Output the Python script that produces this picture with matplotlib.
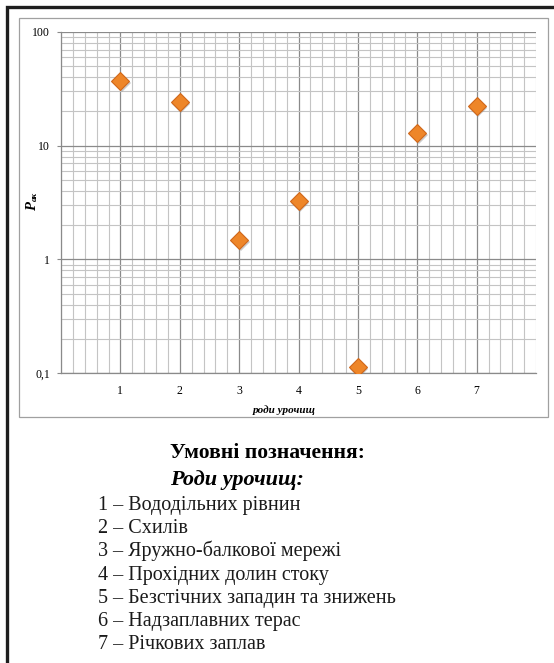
import matplotlib
matplotlib.use('Agg')
import matplotlib.pyplot as plt
import numpy as np
from matplotlib.patches import Rectangle
from matplotlib.ticker import FixedLocator, LogLocator, NullFormatter
from matplotlib.transforms import ScaledTranslation

# values
rody = [1, 2, 3, 4, 5, 6, 7]
p_ak = [37, 24, 1.48, 3.25, 0.112, 12.8, 22.4]
ytick_vals = [0.1, 1, 10, 100]
ytick_labels = ['0,1', '1', '10', '100']
legend_title = 'Умовні позначення:'
legend_sub = 'Роди урочищ:'
legend_items = ['1 – Вододільних рівнин', '2 – Схилів', '3 – Яружно-балкової мережі',
                '4 – Прохідних долин стоку', '5 – Безстічних западин та знижень',
                '6 – Надзаплавних терас', '7 – Річкових заплав']

W, H = 554, 663
fig = plt.figure(figsize=(W / 100, H / 100), dpi=100)


def px(x, y):
    # pixel coords (from top-left) -> figure fraction
    return x / W, 1 - y / H


# outer thick frame (right/bottom sides fall off the page)
fig.patches.append(Rectangle(px(7, 700), (600 - 7) / W, (700 - 7) / H, transform=fig.transFigure,
                             fill=False, ec='#1e1e1e', lw=2.4, zorder=0))
# chart box
fig.patches.append(Rectangle(px(19, 417), (548 - 19) / W, (417 - 18) / H, transform=fig.transFigure,
                             fill=False, ec='#a0a0a0', lw=0.9, zorder=0))

ax = fig.add_axes([61 / W, 1 - 373 / H, 475 / W, 341 / H])
ax.set_yscale('log')
ax.set_xlim(0, 8)
ax.set_ylim(0.1, 100)

# grid
ax.xaxis.set_major_locator(FixedLocator(rody))
ax.xaxis.set_minor_locator(FixedLocator(np.arange(0, 8.01, 0.2)))
ax.yaxis.set_major_locator(FixedLocator(ytick_vals))
ax.yaxis.set_minor_locator(LogLocator(base=10, subs=np.arange(2, 10)))
ax.yaxis.set_minor_formatter(NullFormatter())
ax.grid(which='minor', color='#c4c4c4', lw=0.8)
ax.grid(which='major', color='#8a8a8a', lw=0.9)
ax.set_axisbelow(True)
for s in ['top', 'right']:
    ax.spines[s].set_visible(False)
for s in ['left', 'bottom']:
    ax.spines[s].set_color('#8a8a8a')
    ax.spines[s].set_linewidth(0.9)

ax.set_yticklabels(ytick_labels, fontfamily='Liberation Serif', fontsize=8.5)
ax.set_xticklabels([str(r) for r in rody], fontfamily='Liberation Serif', fontsize=8.5)
ax.tick_params(axis='y', which='major', length=3, color='#8a8a8a', pad=5)
ax.tick_params(axis='x', which='major', length=0, pad=9)
ax.tick_params(which='minor', length=0)

# markers with a soft shadow
shadow = ax.transData + ScaledTranslation(1.5 / 100, -2 / 100, fig.dpi_scale_trans)
ax.plot(rody, p_ak, ls='none', marker='D', ms=9.6, color='#8c8c8c', alpha=0.45,
        mew=0, transform=shadow, zorder=3)
ax.plot(rody, p_ak, ls='none', marker='D', ms=9.6, color='#ee8629', mec='#d0671a', mew=0.8, zorder=4)

# axis titles
fig.text(*px(284, 410), 'роди урочищ', ha='center', va='center', fontfamily='Liberation Serif',
         fontweight='bold', fontstyle='italic', fontsize=8)
fig.text(*px(33, 207), 'P', ha='center', va='center', rotation=90, fontfamily='Liberation Serif',
         fontweight='bold', fontstyle='italic', fontsize=10.5)
fig.text(*px(35, 196), 'ак', ha='center', va='center', rotation=90, fontfamily='Liberation Serif',
         fontweight='bold', fontstyle='italic', fontsize=6.5)

# legend text below the chart
fig.text(*px(170, 458), legend_title, ha='left', va='baseline', fontfamily='Liberation Serif',
         fontweight='bold', fontsize=15.6)
fig.text(*px(170, 485), legend_sub, ha='left', va='baseline', fontfamily='Liberation Serif',
         fontweight='bold', fontstyle='italic', fontsize=16)
for i, item in enumerate(legend_items):
    fig.text(*px(98, 510 + i * 23.2), item, ha='left', va='baseline',
             fontfamily='Liberation Serif', fontsize=14.5, color='#1a1a1a')

fig.savefig('out.png', dpi=100)
